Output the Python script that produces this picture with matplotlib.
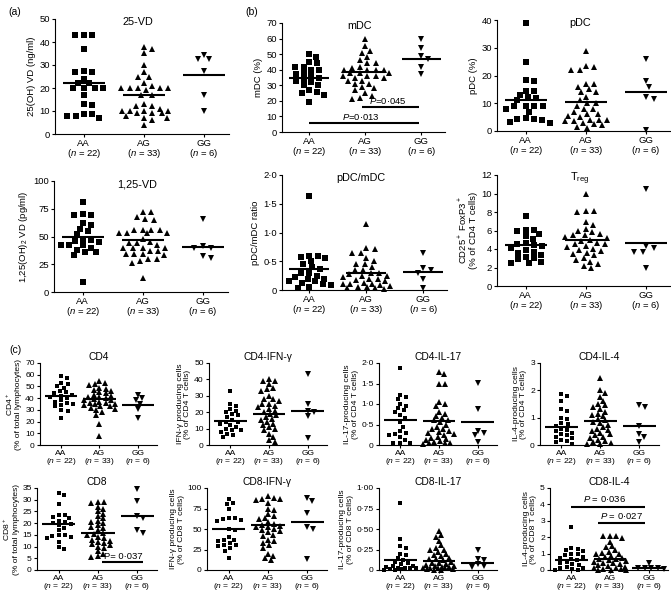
import numpy as np
import matplotlib
matplotlib.use("Agg")
import matplotlib.pyplot as plt

plt.rcParams['font.family'] = ['Liberation Sans', 'DejaVu Sans']
plt.rcParams['mathtext.fontset'] = 'custom'
plt.rcParams['mathtext.rm'] = 'Liberation Sans'
plt.rcParams['mathtext.it'] = 'Liberation Sans:italic'
plt.rcParams['mathtext.bf'] = 'Liberation Sans:bold'

groups = ['AA', 'AG', 'GG']
group_n = [22, 33, 6]

# ---- (a) vitamin D ----
vd25_aa = [43, 43, 43, 37, 27.5, 27, 27, 24, 22, 20, 20, 20, 17, 13, 12.5, 8.5, 8, 7, 8, 8.7, 22, 20]
vd25_ag = [38, 37, 35, 30, 27, 25, 25, 22, 21, 20, 20, 20, 20, 20, 19, 17, 17, 13, 12, 12, 11,
           10, 10, 10, 10, 9, 9, 9, 8, 7, 7, 6, 4]
vd25_gg = [32.5, 32.5, 34.5, 27.5, 17, 10]
vd25_line = [22, 17, 25.5]

vd125_aa = [81, 69, 69, 70, 62, 60, 57, 55, 52, 48, 47, 46, 42, 42, 42, 40, 38, 36, 36, 33, 9, 45]
vd125_ag = [72, 72, 68, 66, 65, 56, 56, 56, 56, 53, 53, 53, 53, 48, 45, 44, 44, 42, 40, 40, 40,
            40, 37, 37, 34, 34, 34, 33, 30, 30, 28, 26, 13]
vd125_gg = [66, 40, 41, 40, 32, 31]
vd125_line = [49.5, 46.5, 40.5]

# ---- (b) dendritic cells and Treg ----
mdc_aa = [50, 48, 45, 44, 42, 42, 40, 40, 38, 37, 36, 35, 34, 33, 32, 30, 30, 27, 26, 25, 24, 19]
mdc_ag = [60, 55, 52, 51, 48, 46, 44, 44, 42, 41, 40, 40, 40, 40, 38, 38, 38, 36, 36, 36, 35,
          35, 33, 33, 31, 31, 29, 27, 25, 22, 23, 21, 28]
mdc_gg = [60, 54, 49, 47, 42, 37]
mdc_line = [35, 38.5, 47]

pdc_aa = [39, 25, 18.5, 18, 14.5, 14.5, 12.3, 12, 9, 9, 9, 9, 8, 4.7, 4.5, 4.5, 4, 3.3, 3, 11, 13, 7]
pdc_ag = [29, 23, 22, 22, 23.5, 17, 17, 16, 15, 14, 14, 12.3, 11, 10, 10, 9, 8, 8, 7, 6.3, 6,
          5.5, 5, 3.9, 4, 4, 3.5, 3.5, 3, 2.5, 2, 1.5, 1.2]
pdc_gg = [26, 18, 16, 12.3, 11.5, 0.5]
pdc_line = [11.3, 10.5, 14]

ratio_aa = [1.63, 0.6, 0.6, 0.57, 0.55, 0.45, 0.4, 0.37, 0.3, 0.3, 0.25, 0.22, 0.2, 0.2, 0.15,
            0.15, 0.12, 0.1, 0.08, 0.06, 0.03, 0.5]
ratio_ag = [1.15, 0.72, 0.73, 0.65, 0.65, 0.55, 0.45, 0.45, 0.4, 0.35, 0.3, 0.3, 0.28, 0.25, 0.25,
            0.22, 0.2, 0.2, 0.18, 0.15, 0.12, 0.1, 0.1, 0.1, 0.08, 0.07, 0.05, 0.05, 0.04, 0.03,
            0.02, 0.5, 0.35]
ratio_gg = [0.65, 0.38, 0.35, 0.3, 0.2, 0.03]
ratio_line = [0.36, 0.3, 0.32]

treg_aa = [7.6, 6.1, 6, 6.1, 5.6, 5.4, 5.1, 4.6, 4.5, 4.4, 4.1, 3.9, 3.7, 3.6, 3.4, 3.1, 3.0,
           2.9, 2.6, 2.5, 2.5, 4.3]
treg_ag = [10, 8.1, 8.1, 8.0, 6.9, 6.6, 6.2, 6.0, 5.6, 5.5, 5.5, 5.3, 5.2, 5.0, 4.9, 4.7, 4.5,
           4.5, 4.3, 4.2, 4.0, 3.9, 3.8, 3.6, 3.5, 3.3, 3.0, 2.8, 2.6, 2.4, 2.2, 1.9, 5.8]
treg_gg = [10.5, 4.3, 4.1, 3.7, 3.7, 2.0]
treg_line = [4.4, 5.0, 4.7]

# ---- (c) T cell subsets ----
cd4_aa = [59, 57, 53, 52, 50, 49, 46, 45, 44, 43, 42, 41, 40, 38, 37, 36, 35, 34, 33, 30, 29, 23]
cd4_ag = [55, 53, 52, 51, 49, 48, 47, 46, 44, 43, 42, 41, 41, 40, 39, 38, 38, 37, 36, 36, 35,
          35, 34, 33, 33, 32, 31, 30, 28, 26, 18, 8, 45]
cd4_gg = [43, 40, 38, 35, 31, 23]
cd4_line = [42, 39.5, 34]

cd4ifn_aa = [33, 25, 24, 22, 21, 20, 19, 18, 17, 15, 14, 14, 13, 12, 11, 10, 9, 9, 8, 7, 6, 5]
cd4ifn_ag = [40, 39, 39, 37, 35, 34, 33, 30, 28, 28, 27, 25, 25, 24, 23, 22, 21, 20, 19, 18, 17,
             16, 15, 14, 13, 12, 11, 10, 9, 7, 5, 3, 2]
cd4ifn_gg = [43, 25, 21, 20, 17.5, 4.5]
cd4ifn_line = [14.5, 19, 21]

cd4il17_aa = [1.88, 1.22, 1.18, 1.12, 1.0, 0.95, 0.9, 0.85, 0.8, 0.72, 0.65, 0.55, 0.45, 0.35,
              0.3, 0.28, 0.25, 0.2, 0.12, 0.05, 0.05, 0.05]
cd4il17_ag = [1.78, 1.72, 1.48, 1.48, 1.05, 1.0, 0.95, 0.8, 0.75, 0.7, 0.65, 0.6, 0.6, 0.55, 0.5,
              0.45, 0.4, 0.38, 0.35, 0.32, 0.3, 0.28, 0.25, 0.2, 0.18, 0.15, 0.12, 0.1, 0.08,
              0.06, 0.05, 0.04, 0.03]
cd4il17_gg = [1.52, 0.88, 0.35, 0.3, 0.25, 0.08]
cd4il17_line = [0.6, 0.58, 0.56]

cd4il4_aa = [1.85, 1.78, 1.6, 1.3, 1.25, 1.0, 0.95, 0.8, 0.78, 0.7, 0.6, 0.55, 0.5, 0.45, 0.4,
             0.35, 0.3, 0.25, 0.2, 0.15, 0.1, 0.05]
cd4il4_ag = [2.45, 2.0, 1.9, 1.75, 1.6, 1.5, 1.45, 1.4, 1.3, 1.2, 1.15, 1.1, 1.05, 0.95, 0.9,
             0.85, 0.8, 0.75, 0.65, 0.6, 0.55, 0.5, 0.45, 0.4, 0.35, 0.3, 0.25, 0.2, 0.15, 0.1,
             0.08, 0.05, 0.03]
cd4il4_gg = [1.46, 1.38, 0.7, 0.42, 0.3, 0.12]
cd4il4_line = [0.67, 0.88, 0.7]

cd8_aa = [33, 32, 28, 23.5, 23.5, 22.5, 22, 21, 20, 19.5, 19, 18, 17, 15, 15, 14.5, 14, 13.5,
          12, 10, 9, 20.5]
cd8_ag = [29, 29, 28.5, 27, 26, 25, 24, 23, 22, 21, 20.5, 20, 19, 18.5, 18, 17, 16, 15.5, 15,
          14, 13.5, 13, 12.5, 12, 11.5, 11, 10.5, 10, 9.5, 8, 7, 6, 5.5]
cd8_gg = [34.5, 29.5, 23, 22, 16.9, 16]
cd8_line = [19.5, 16, 23]

cd8ifn_aa = [86, 82, 80, 74, 64, 63, 62, 61, 60, 50, 49, 40, 37, 36, 33, 31, 30, 29, 27, 23, 15, 35]
cd8ifn_ag = [90, 88, 87, 86, 85, 82, 75, 73, 68, 66, 63, 58, 56, 55, 54, 53, 52, 50, 49, 48, 46,
             43, 42, 37, 35, 33, 30, 27, 20, 17, 15, 12, 62]
cd8ifn_gg = [88, 84, 70, 52, 50, 13]
cd8ifn_line = [49.5, 54.5, 59]

cd8il17_aa = [0.82, 0.38, 0.29, 0.27, 0.2, 0.18, 0.15, 0.12, 0.1, 0.08, 0.07, 0.05, 0.05, 0.04,
              0.03, 0.03, 0.02, 0.02, 0.01, 0.01, 0.0, 0.0]
cd8il17_ag = [0.48, 0.43, 0.4, 0.35, 0.3, 0.27, 0.25, 0.24, 0.22, 0.2, 0.18, 0.17, 0.15, 0.14,
              0.13, 0.12, 0.1, 0.09, 0.08, 0.07, 0.06, 0.05, 0.05, 0.04, 0.04, 0.03, 0.03, 0.02,
              0.02, 0.01, 0.01, 0.0, 0.0]
cd8il17_gg = [0.25, 0.13, 0.12, 0.07, 0.05, 0.04]
cd8il17_line = [0.12, 0.105, 0.09]

cd8il4_aa = [2.6, 1.35, 1.3, 1.2, 1.15, 1.0, 0.95, 0.9, 0.8, 0.75, 0.7, 0.6, 0.5, 0.45, 0.35,
             0.3, 0.2, 0.15, 0.1, 0.05, 0.03, 0.0]
cd8il4_ag = [2.1, 2.1, 2.05, 1.95, 1.7, 1.45, 1.4, 1.2, 1.1, 1.05, 1.0, 0.95, 0.85, 0.8, 0.75,
             0.7, 0.65, 0.6, 0.55, 0.5, 0.45, 0.4, 0.35, 0.3, 0.25, 0.2, 0.15, 0.1, 0.08, 0.05,
             0.03, 0.02, 0.0]
cd8il4_gg = [0.4, 0.15, 0.12, 0.1, 0.1, 0.08]
cd8il4_line = [0.62, 0.7, 0.13]

W, H = 671, 598
fig = plt.figure(figsize=(W / 100, H / 100), dpi=100)


def fmt_dot(v, nd):
    if v == 0:
        return "0"
    return ("%.*f" % (nd, v)).replace(".", "\u00b7") if nd > 0 else "%d" % v


def swarm(vals, ppx, ppy, size, maxw):
    # beeswarm in pixel space (wider horizontal gap, like Prism rows),
    # offsets capped at maxw px; when full, take the least crowded spot
    vals = np.asarray(vals, float)
    offs = np.zeros(len(vals))
    placed = []
    sx, sy = size * 1.4, size * 1.0
    steps = [0.0]
    k = 1
    while k * 0.5 <= maxw:
        steps += [k * 0.5, -k * 0.5]
        k += 1
    for i in np.argsort(-vals, kind="stable"):
        y = vals[i] * ppy
        best, best_d = 0.0, -1
        for s in steps:
            d = min([((s - px) / sx) ** 2 + ((y - py) / sy) ** 2 for px, py in placed] + [9])
            if d >= 1:
                best = s
                break
            if d > best_d:
                best, best_d = s, d
        placed.append((best, y))
        offs[i] = best / ppx
    return offs


def panel(box, data, lines, ymax, ticks, nd, ylabel, title, small):
    l, r, t, b = box
    ax = fig.add_axes([l / W, 1 - b / H, (r - l) / W, (b - t) / H])
    xl = (0.45, 3.5) if small else (0.52, 3.42)
    ax.set_xlim(*xl)
    ax.set_ylim(0, ymax)
    fs = 6.1 if small else 6.8
    ms = 3.2 if small else 4.2
    hw = 0.42 if small else 0.35
    ppx = (r - l) / (xl[1] - xl[0])
    ppy = (b - t) / ymax
    for k, (vals, mk) in enumerate(zip(data, ['s', '^', 'v'])):
        m = ms if mk == 's' else ms * 1.15
        off = swarm(vals, ppx, ppy, ms * 100 / 72, 0.42 * ppx)
        ax.plot(k + 1 + off, vals, mk, color='black', ms=m, mew=0, clip_on=False)
        ax.plot([k + 1 - hw, k + 1 + hw], [lines[k], lines[k]], '-', color='black', lw=1.5,
                solid_capstyle='butt')
    for s in ['top', 'right']:
        ax.spines[s].set_visible(False)
    for s in ['left', 'bottom']:
        ax.spines[s].set_linewidth(0.8)
    ax.set_xticks([1, 2, 3])
    ax.set_xticklabels(["%s\n($\\it{n}$ = %d)" % (g, n) for g, n in zip(groups, group_n)],
                       fontsize=fs, linespacing=0.9)
    ax.set_yticks(ticks)
    ax.set_yticklabels([fmt_dot(v, nd) for v in ticks], fontsize=fs)
    ax.tick_params(length=2.5, width=0.8, pad=1.2)
    ax.set_ylabel(ylabel, fontsize=fs, labelpad=2, linespacing=1.1)
    if small:
        ax.set_title(title, fontsize=fs + 1.3, pad=2)
    else:
        ax.text(1.9, ymax * 0.97, title, fontsize=fs + 1.0, ha='center', va='center')
    return ax


def sig(ax, x0, x1, y, text, tx, ty, fs):
    ax.plot([x0, x1], [y, y], '-', color='black', lw=1.5, solid_capstyle='butt')
    ax.text(tx, ty, text, fontsize=fs, ha='center', va='center')


panel((55, 229, 19, 134), [vd25_aa, vd25_ag, vd25_gg], vd25_line, 50, [0, 10, 20, 30, 40, 50], 0,
      "25(OH) VD (ng/ml)", "25-VD", False)
panel((54, 228, 181, 292), [vd125_aa, vd125_ag, vd125_gg], vd125_line, 100,
      [0, 25, 50, 75, 100], 0, "1,25(OH)$_2$ VD (pg/ml)", "1,25-VD", False)
ax = panel((282, 445, 23, 132), [mdc_aa, mdc_ag, mdc_gg], mdc_line, 70,
           [0, 10, 20, 30, 40, 50, 60, 70], 0, "mDC (%)", "mDC", False)
sig(ax, 1.95, 2.95, 16.3, "$\\it{P}$=0\u00b7045", 2.4, 19.8, 6.8)
sig(ax, 1.0, 2.95, 5.8, "$\\it{P}$=0\u00b7013", 1.93, 9.6, 6.8)
panel((497, 671, 20, 131), [pdc_aa, pdc_ag, pdc_gg], pdc_line, 40, [0, 10, 20, 30, 40], 0,
      "pDC (%)", "pDC", False)
panel((282, 447, 175, 290), [ratio_aa, ratio_ag, ratio_gg], ratio_line, 2.0,
      [0, 0.5, 1.0, 1.5, 2.0], 1, "pDC/mDC ratio", "pDC/mDC", False)
panel((497, 671, 175, 286), [treg_aa, treg_ag, treg_gg], treg_line, 12,
      [0, 2, 4, 6, 8, 10, 12], 0, "CD25$^+$ FoxP3$^+$\n(% of CD4 T cells)",
      "T$_{\\rm reg}$", False)

panel((40, 157, 363, 445), [cd4_aa, cd4_ag, cd4_gg], cd4_line, 70,
      [0, 10, 20, 30, 40, 50, 60, 70], 0, "CD4$^+$\n(% of total lymphocytes)", "CD4", True)
panel((209, 327, 363, 445), [cd4ifn_aa, cd4ifn_ag, cd4ifn_gg], cd4ifn_line, 50,
      [0, 10, 20, 30, 40, 50], 0, "IFN-\u03b3 producing cells\n(% of CD4 T cells)",
      "CD4-IFN-\u03b3", True)
panel((379, 497, 363, 445), [cd4il17_aa, cd4il17_ag, cd4il17_gg], cd4il17_line, 2.0,
      [0, 0.5, 1.0, 1.5, 2.0], 1, "IL-17-producing cells\n(% of CD4 T cells)", "CD4-IL-17", True)
panel((540, 659, 363, 445), [cd4il4_aa, cd4il4_ag, cd4il4_gg], cd4il4_line, 3,
      [0, 1, 2, 3], 0, "IL-4-producing cells\n(% of CD4 T cells)", "CD4-IL-4", True)

ax = panel((37, 157, 488, 570), [cd8_aa, cd8_ag, cd8_gg], cd8_line, 35,
           [0, 5, 10, 15, 20, 25, 30, 35], 0, "CD8$^+$\n(% of total lymphocytes)", "CD8", True)
sig(ax, 2.1, 3.15, 3.5, "P= 0\u00b7037", 2.64, 5.8, 6.8)
panel((207, 327, 488, 570), [cd8ifn_aa, cd8ifn_ag, cd8ifn_gg], cd8ifn_line, 100,
      [0, 25, 50, 75, 100], 0, "IFN-\u03b3 producing cells\n(% of CD8 T cells)",
      "CD8-IFN-\u03b3", True)
panel((379, 497, 488, 570), [cd8il17_aa, cd8il17_ag, cd8il17_gg], cd8il17_line, 1.0,
      [0, 0.25, 0.5, 0.75, 1.0], 2, "IL-17-producing cells\n(% of CD8 T cells)", "CD8-IL-17", True)
ax = panel((550, 668, 488, 570), [cd8il4_aa, cd8il4_ag, cd8il4_gg], cd8il4_line, 5,
           [0, 1, 2, 3, 4, 5], 0, "IL-4-producing cells\n(% of CD8 T cells)", "CD8-IL-4", True)
sig(ax, 1.0, 2.9, 3.85, "$\\it{P}$ = 0\u00b7036", 1.85, 4.3, 6.8)
sig(ax, 1.7, 2.9, 2.85, "$\\it{P}$ = 0\u00b7027", 2.3, 3.3, 6.8)

fig.text(15 / W, 1 - 12 / H, "(a)", fontsize=7.5, ha='center', va='center')
fig.text(252 / W, 1 - 12 / H, "(b)", fontsize=7.5, ha='center', va='center')
fig.text(15 / W, 1 - 350 / H, "(c)", fontsize=7.5, ha='center', va='center')

fig.savefig("out.png", dpi=100)
